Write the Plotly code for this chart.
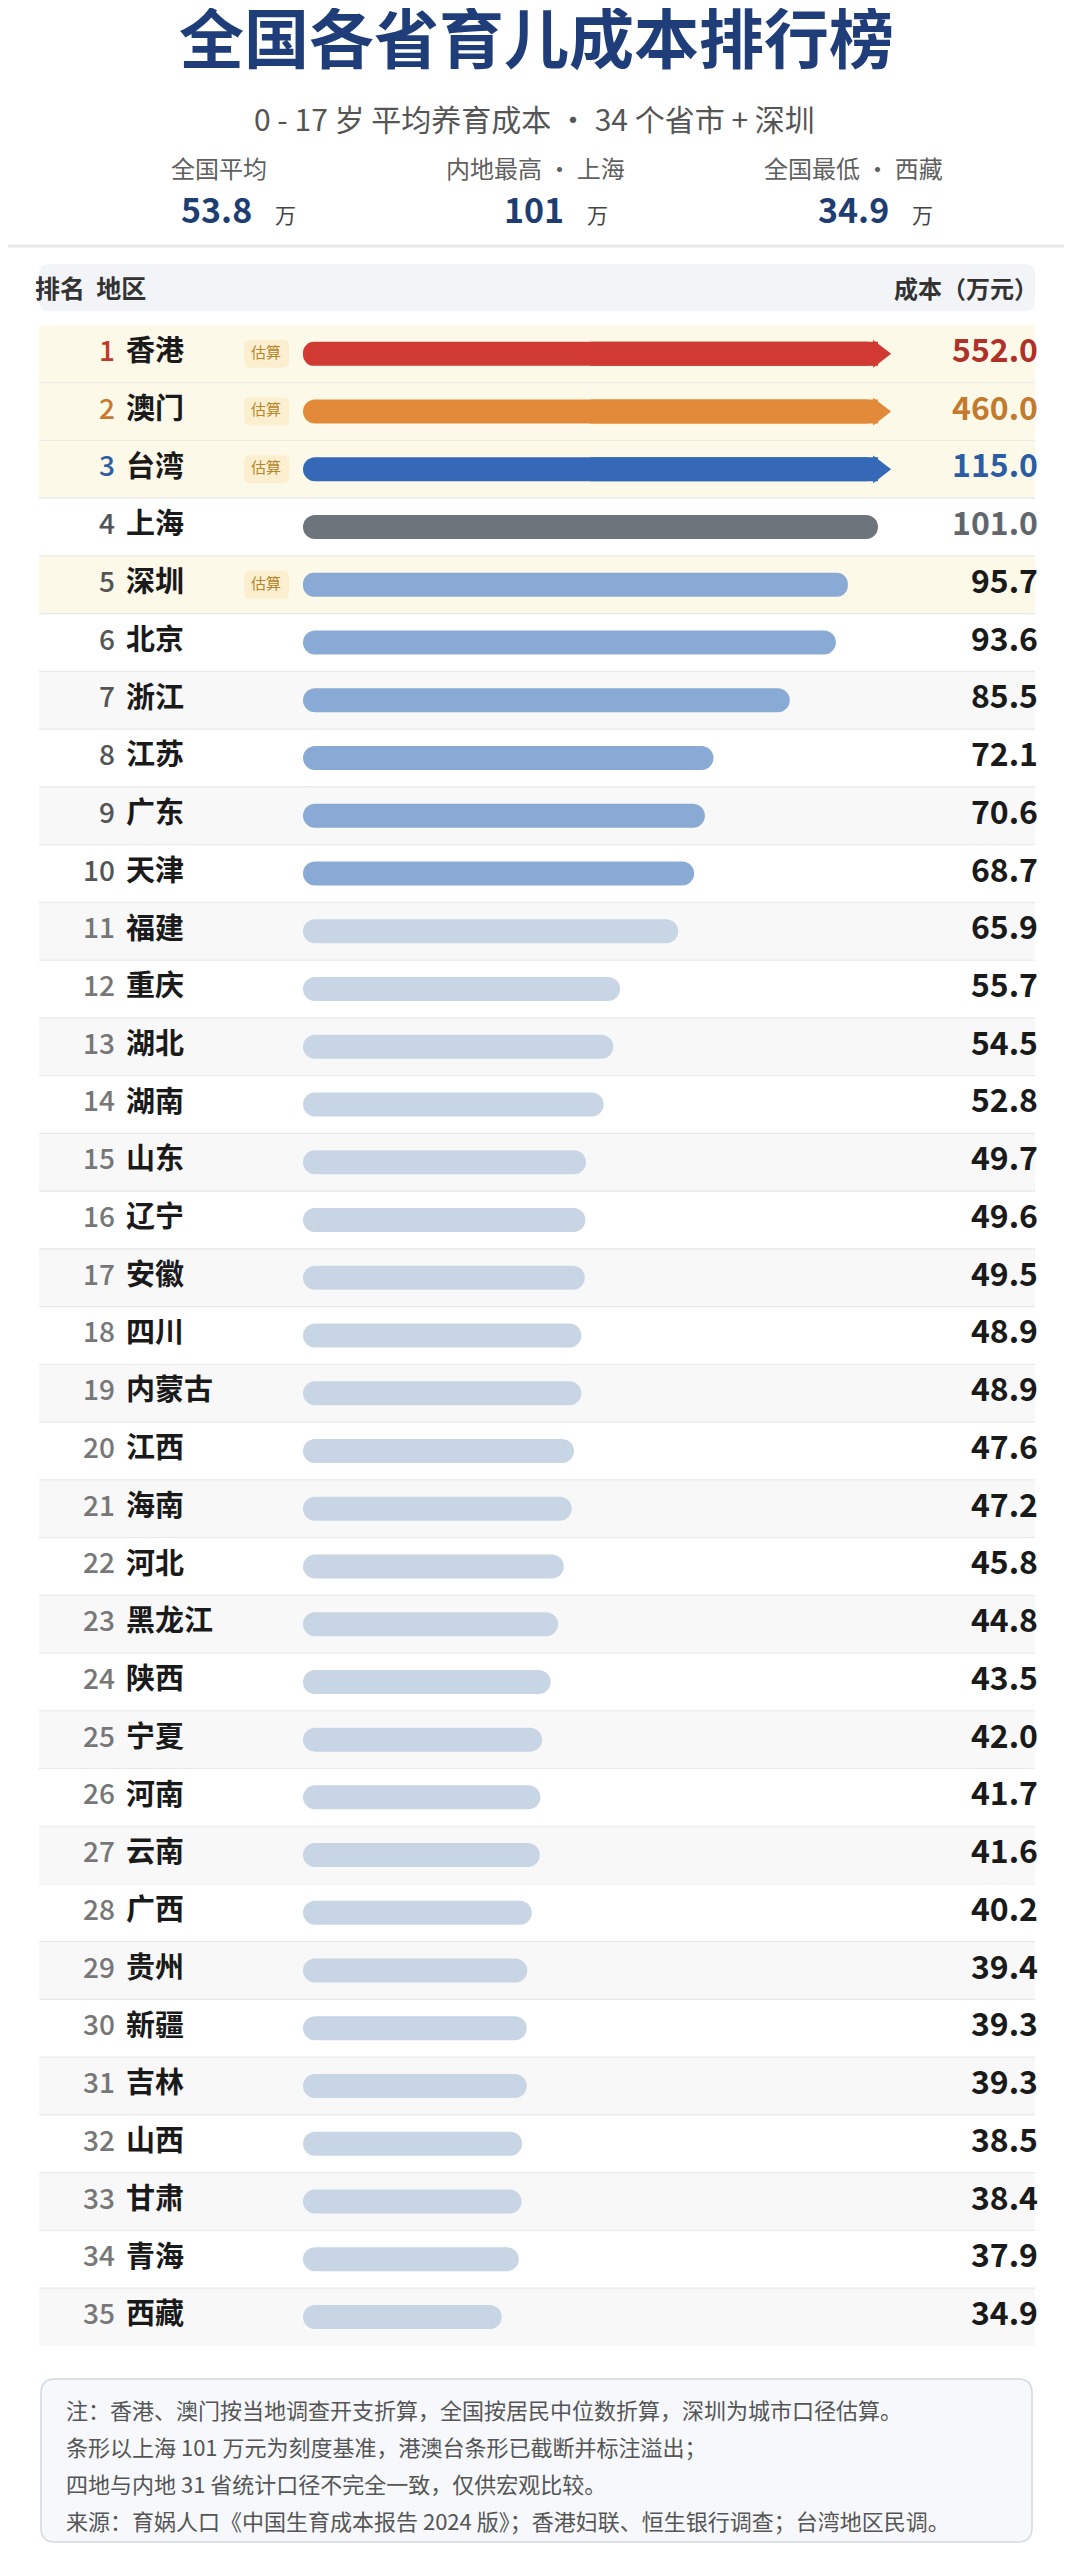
import plotly.graph_objects as go

# ---------------- data ----------------
ranks = list(range(1, 36))
regions = ["香港", "澳门", "台湾", "上海", "深圳", "北京", "浙江", "江苏", "广东", "天津",
           "福建", "重庆", "湖北", "湖南", "山东", "辽宁", "安徽", "四川", "内蒙古", "江西",
           "海南", "河北", "黑龙江", "陕西", "宁夏", "河南", "云南", "广西", "贵州", "新疆",
           "吉林", "山西", "甘肃", "青海", "西藏"]
costs = [552.0, 460.0, 115.0, 101.0, 95.7, 93.6, 85.5, 72.1, 70.6, 68.7,
         65.9, 55.7, 54.5, 52.8, 49.7, 49.6, 49.5, 48.9, 48.9, 47.6,
         47.2, 45.8, 44.8, 43.5, 42.0, 41.7, 41.6, 40.2, 39.4, 39.3,
         39.3, 38.5, 38.4, 37.9, 34.9]
estimated = ["香港", "澳门", "台湾", "深圳"]
scale_ref = 101.0  # 上海 101 万元为条形基准, 超出者截断

stat_labels = ["全国平均", "内地最高 · 上海", "全国最低 · 西藏"]
stat_values = ["53.8", "101", "34.9"]
stat_unit = "万"

title = "全国各省育儿成本排行榜"
subtitle = "0 - 17 岁 平均养育成本 · 34 个省市 + 深圳"
header_left = ["排名", "地区"]
header_right = "成本（万元）"
notes = [
    "注：香港、澳门按当地调查开支折算，全国按居民中位数折算，深圳为城市口径估算。",
    "条形以上海 101 万元为刻度基准，港澳台条形已截断并标注溢出；",
    "四地与内地 31 省统计口径不完全一致，仅供宏观比较。",
    "来源：育娲人口《中国生育成本报告 2024 版》；香港妇联、恒生银行调查；台湾地区民调。",
]
badge_text = "估算"

# ---------------- layout constants (page pixels) ----------------
PAGE_W, PAGE_H = 1072, 2560
OFF = 8                      # default body margin of the html page
FW, FH = PAGE_W - 2 * OFF, PAGE_H - 2 * OFF
FONT = "Noto Sans CJK SC"
BAR_X0 = 303.0
BAR_X_REF = 878.0            # pixel where scale_ref ends
BAR_X_MAX = 898.0
PX_PER_UNIT = (BAR_X_REF - BAR_X0) / scale_ref
ROW_TOP = 325.0
ROW_H = 57.74
N = len(ranks)
BAR_PX = 24.0
ROW_L, ROW_R = 39, 1035


def px(x):
    return (x - OFF) / FW


def py(y):
    return 1 - (y - OFF) / FH


def bar_color(r):
    if r == 1:
        return "#d13a33"
    if r == 2:
        return "#e3893a"
    if r == 3:
        return "#3568b6"
    if r == 4:
        return "#6e747c"
    if r <= 10:
        return "#89aad4"
    return "#c8d5e5"


def rank_color(r):
    return {1: "#c0392b", 2: "#c9782e", 3: "#2f5fa6", 4: "#50555b"}.get(r, "#555555" if r <= 10 else "#777777")


def value_color(r):
    return {1: "#b0302a", 2: "#c27a2e", 3: "#2c5da3", 4: "#62666c"}.get(r, "#1a1a1a")


fig = go.Figure()

capped = [i for i, v in enumerate(costs) if v > scale_ref]
bw = BAR_PX / ROW_H

# pill-shaped bars (a base makes plotly round both ends)
fig.add_trace(go.Bar(
    orientation="h", y=ranks, x=[min(v, scale_ref) for v in costs], base=0, width=bw,
    marker=dict(color=[bar_color(r) for r in ranks], cornerradius=BAR_PX / 2, line=dict(width=0)),
    hoverinfo="skip", showlegend=False,
))
# square off the truncated bars
fig.add_trace(go.Bar(
    orientation="h",
    y=[ranks[i] for i in capped],
    x=[scale_ref / 2] * len(capped),
    base=scale_ref / 2, width=bw,
    marker=dict(color=[bar_color(ranks[i]) for i in capped], cornerradius=0, line=dict(width=0)),
    hoverinfo="skip", showlegend=False,
))
# overflow arrows
fig.add_trace(go.Scatter(
    x=[scale_ref + 0.2] * len(capped), y=[ranks[i] for i in capped], mode="markers",
    marker=dict(symbol="triangle-right", size=24, color=[bar_color(ranks[i]) for i in capped],
                line=dict(width=0)),
    hoverinfo="skip", showlegend=False,
))

# text columns on a full-width axis whose units are page pixels
fig.add_trace(go.Scatter(
    x=[115] * N, y=ranks, mode="text", text=[str(r) for r in ranks],
    textposition="middle left", xaxis="x2",
    textfont=dict(family=FONT, size=28, color=[rank_color(r) for r in ranks], weight=500),
    hoverinfo="skip", showlegend=False,
))
fig.add_trace(go.Scatter(
    x=[126] * N, y=ranks, mode="text", text=regions,
    textposition="middle right", xaxis="x2",
    textfont=dict(family=FONT, size=29, color="#1a1a1a", weight=600),
    hoverinfo="skip", showlegend=False,
))
fig.add_trace(go.Scatter(
    x=[1038] * N, y=ranks, mode="text", text=[f"{v:.1f}" for v in costs],
    textposition="middle left", xaxis="x2",
    textfont=dict(family=FONT, size=32, color=[value_color(r) for r in ranks], weight="bold"),
    hoverinfo="skip", showlegend=False,
))
est_ranks = [ranks[i] for i, n in enumerate(regions) if n in estimated]
fig.add_trace(go.Scatter(
    x=[266] * len(est_ranks), y=est_ranks, mode="text", text=[badge_text] * len(est_ranks),
    textposition="middle center", xaxis="x2",
    textfont=dict(family=FONT, size=15, color="#b5862c"),
    hoverinfo="skip", showlegend=False,
))

shapes = []


def rrect(x0, y0, x1, y1, rx, fill, line=None, lw=0, xr="paper", yr="paper", ry=None):
    ry = rx if ry is None else ry
    path = (f"M{x0+rx},{y0} L{x1-rx},{y0} Q{x1},{y0} {x1},{y0+ry} L{x1},{y1-ry} Q{x1},{y1} {x1-rx},{y1} "
            f"L{x0+rx},{y1} Q{x0},{y1} {x0},{y1-ry} L{x0},{y0+ry} Q{x0},{y0} {x0+rx},{y0} Z")
    return dict(type="path", path=path, xref=xr, yref=yr, fillcolor=fill,
                line=dict(color=line or fill, width=lw), layer="below")


# row backgrounds & separators
for r, name in zip(ranks, regions):
    if name in estimated:
        fill = "#fdf9e9"
    elif r % 2 == 1:
        fill = "#f8f8f9"
    else:
        fill = "#ffffff"
    shapes.append(dict(type="rect", xref="paper", yref="y", x0=px(ROW_L), x1=px(ROW_R),
                       y0=r - 0.5, y1=r + 0.5, fillcolor=fill, line=dict(width=0), layer="below"))
for r in ranks[:-1]:
    shapes.append(dict(type="line", xref="paper", yref="y", x0=px(ROW_L), x1=px(ROW_R),
                       y0=r + 0.5, y1=r + 0.5, line=dict(color="#e9e9e9", width=1.2), layer="below"))
# badges
for r in est_ranks:
    hb = 14 / ROW_H
    shapes.append(rrect(px(244), r - hb, px(289), r + hb, 6 / FW, "#fcefd0", yr="y", ry=6 / ROW_H))

# header band
shapes.append(rrect(px(ROW_L), py(311), px(ROW_R), py(264), 10 / FW, "#f2f4f7", ry=10 / FH))
# separator below stats
shapes.append(dict(type="line", xref="paper", yref="paper", x0=0, x1=1, y0=py(246), y1=py(246),
                   line=dict(color="#e6e8eb", width=3)))
# footer box
shapes.append(rrect(px(41), py(2542), px(1032), py(2379), 14 / FW, "#f6f8fb", line="#d2d8e1", lw=1.5,
                    ry=14 / FH))

annotations = []
annotations.append(dict(x=px(536), y=py(35), xref="paper", yref="paper", text=f"<b>{title}</b>",
                        showarrow=False, xanchor="center", yanchor="middle",
                        font=dict(family=FONT, size=65, color="#1f3e79")))
annotations.append(dict(x=px(534), y=py(118), xref="paper", yref="paper", text=subtitle,
                        showarrow=False, xanchor="center", yanchor="middle",
                        font=dict(family=FONT, size=30, color="#555555")))
stat_lx = [219, 535, 853]
stat_vx = [238, 556, 875]
for lx, vx, lab, val in zip(stat_lx, stat_vx, stat_labels, stat_values):
    annotations.append(dict(x=px(lx), y=py(168), xref="paper", yref="paper", text=lab,
                            showarrow=False, xanchor="center", yanchor="middle",
                            font=dict(family=FONT, size=24, color="#606060")))
    annotations.append(dict(x=px(vx), y=py(209), xref="paper", yref="paper",
                            text=f"<b>{val}</b>&nbsp;&nbsp;&nbsp;<span style='font-size:21px;color:#444444'>{stat_unit}</span>",
                            showarrow=False, xanchor="center", yanchor="middle",
                            font=dict(family=FONT, size=34, color="#1e3e72")))
annotations.append(dict(x=px(33), y=py(287), xref="paper", yref="paper",
                        text=f"<b>{header_left[0]}&nbsp;&nbsp;{header_left[1]}</b>",
                        showarrow=False, xanchor="left", yanchor="middle",
                        font=dict(family=FONT, size=25, color="#333333")))
annotations.append(dict(x=px(1040), y=py(287), xref="paper", yref="paper", text=f"<b>{header_right}</b>",
                        showarrow=False, xanchor="right", yanchor="middle",
                        font=dict(family=FONT, size=24, color="#333333")))
for yy, line in zip([2409, 2446, 2483, 2520], notes):
    annotations.append(dict(x=px(64), y=py(yy), xref="paper", yref="paper", text=line,
                            showarrow=False, xanchor="left", yanchor="middle",
                            font=dict(family=FONT, size=22, color="#555555")))

fig.update_layout(
    width=FW, height=FH, autosize=False,
    margin=dict(l=0, r=0, t=0, b=0, pad=0),
    paper_bgcolor="#ffffff", plot_bgcolor="rgba(0,0,0,0)",
    barmode="overlay",
    showlegend=False,
    xaxis=dict(domain=[px(BAR_X0), px(BAR_X_MAX)], range=[0, (BAR_X_MAX - BAR_X0) / PX_PER_UNIT],
               visible=False, fixedrange=True),
    xaxis2=dict(domain=[0, 1], range=[OFF, OFF + FW], visible=False, anchor="y", fixedrange=True),
    yaxis=dict(domain=[py(ROW_TOP + N * ROW_H), py(ROW_TOP)], range=[N + 0.5, 0.5],
               visible=False, fixedrange=True),
    shapes=shapes,
    annotations=annotations,
)

fig.write_html("out.html", config={"displayModeBar": False})
